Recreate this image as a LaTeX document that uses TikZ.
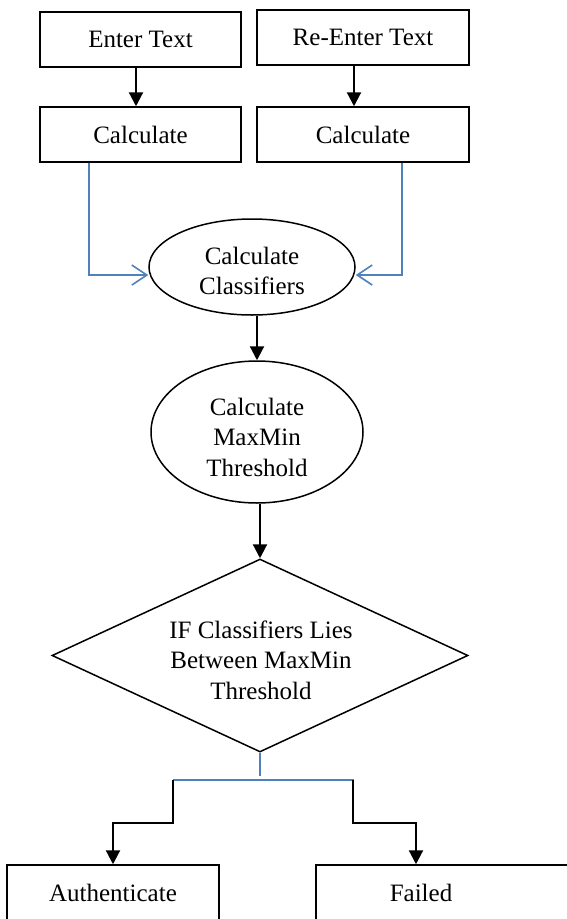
\documentclass[tikz,border=0pt]{standalone}
\usepackage{fontspec}
\setmainfont{Liberation Serif}
\usetikzlibrary{shapes.geometric,arrows.meta}
\definecolor{lineblue}{HTML}{4F81BD}
\begin{document}
\begin{tikzpicture}[x=1pt,y=-1pt,
  font=\fontsize{25}{30.5}\selectfont,
  box/.style={draw, line width=1.5pt, inner sep=0pt, minimum height=55pt},
  oval/.style={draw, ellipse, line width=1.5pt, inner sep=0pt},
  dia/.style={draw, diamond, line width=1.5pt, inner sep=0pt},
  txt/.style={align=center, inner sep=0pt},
  blk/.style={line width=2.2pt, -{Triangle[length=14pt,width=14pt]}},
  blu/.style={draw=lineblue, line width=1.6pt},
  bluarr/.style={draw=lineblue, line width=1.6pt, -{Straight Barb[length=15pt,width=20pt]}}]
\useasboundingbox (0,0) rectangle (566,919);

\node[box, minimum width=201pt] (enter) at (140.5,39.5) {Enter Text};
\node[box, minimum width=212pt] (reenter) at (363,37.5) {Re-Enter Text};
\node[box, minimum width=201pt] (calc1) at (140.5,134.5) {Calculate};
\node[box, minimum width=212pt] (calc2) at (363,134.5) {Calculate};

\node[oval, minimum width=206pt, minimum height=96pt] (cls) at (252,267) {};
\node[txt] (clst) at (252,271) {Calculate\\Classifiers};

\node[oval, minimum width=212pt, minimum height=142pt] (mm) at (257,432) {};
\node[txt] (mmt) at (257,437) {Calculate\\MaxMin\\Threshold};

\node[dia, minimum width=416pt, minimum height=193pt] (dec) at (260,655.5) {};
\node[txt] (dect) at (261,660) {IF Classifiers Lies\\Between MaxMin\\Threshold};

\node[box, minimum width=212pt] (auth) at (113,892.5) {Authenticate};
\node[box, minimum width=264pt] (fail) at (448,892.5) {};
\node[txt] (failt) at (421,892.5) {Failed};

\draw[blk] (136,0 |- enter.south) -- (136,0 |- calc1.north);
\draw[blk] (354,0 |- reenter.south) -- (354,0 |- calc2.north);

\draw[bluarr] (89,0 |- calc1.south) |- ([yshift=-8pt]cls.west);
\draw[bluarr] (402,0 |- calc2.south) |- ([yshift=-8pt]cls.east);

\draw[blk] (mm.north |- cls.south) -- (mm.north);
\draw[blk] (dec.north |- mm.south) -- (dec.north);

\coordinate (bl) at (173,780);
\coordinate (br) at (354,780);
\draw[blu] (dec.south) -- ++(0,23);
\draw[blu] (bl) -- (br);
\draw[blk] (bl) -- (173,823) -| (auth.north);
\draw[blk] (353,780) -- (353,823) -| (416,0 |- fail.north);
\end{tikzpicture}
\end{document}
